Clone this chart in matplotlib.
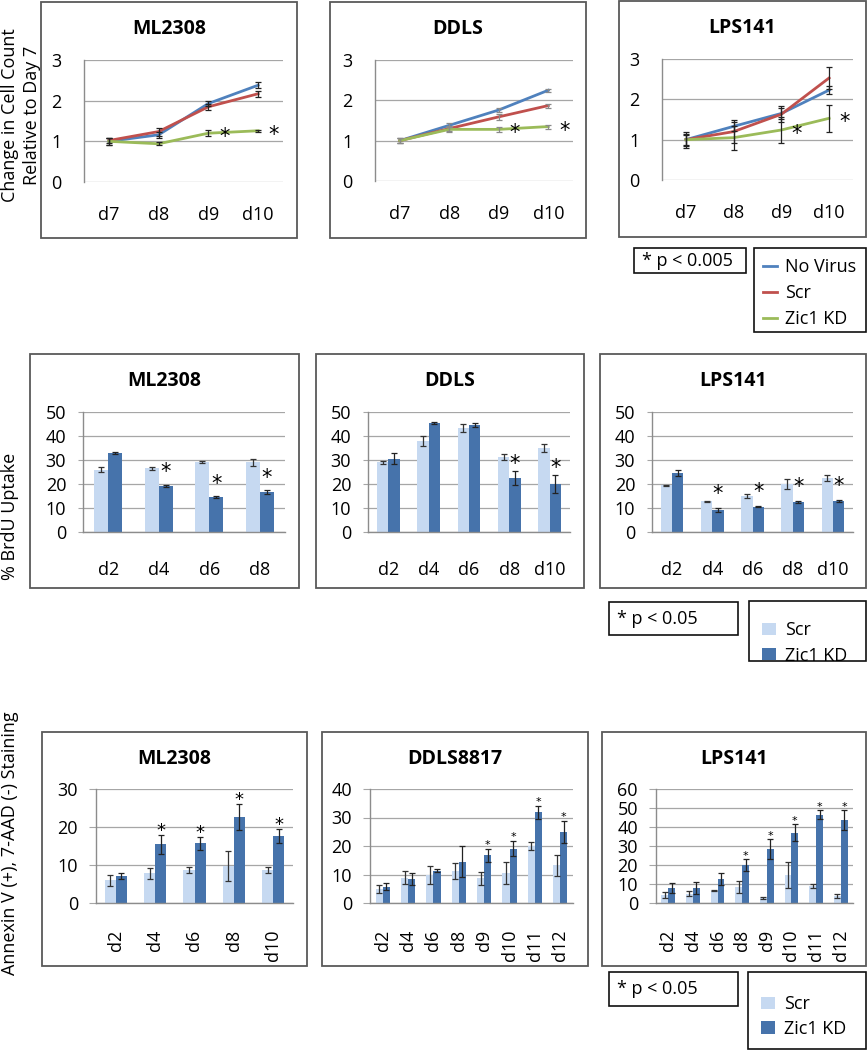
import matplotlib
matplotlib.use('Agg')
import matplotlib.pyplot as plt
import numpy as np
from matplotlib.patches import Rectangle

plt.rcParams['font.family'] = ['Open Sans', 'DejaVu Sans']

# ---- cell growth (row 1) ----
growth_days = ['d7', 'd8', 'd9', 'd10']
growth_names = ['No Virus', 'Scr', 'Zic1 KD']
growth_colors = ['#4f81bd', '#c0504d', '#9bbb59']
growth_sig = [2, 3]
ml_growth = [[1.0, 1.16, 1.93, 2.38], [1.02, 1.24, 1.85, 2.17], [1.0, 0.94, 1.2, 1.26]]
ml_growth_err = [[0.08, 0.08, 0.06, 0.07], [0.07, 0.1, 0.07, 0.07], [0.08, 0.04, 0.07, 0.03]]
ddls_growth = [[1.0, 1.38, 1.76, 2.25], [1.0, 1.3, 1.59, 1.87], [1.0, 1.28, 1.28, 1.35]]
ddls_growth_err = [[0.07, 0.05, 0.05, 0.04], [0.07, 0.06, 0.07, 0.05], [0.07, 0.07, 0.07, 0.05]]
lps_growth = [[1.0, 1.33, 1.65, 2.23], [1.0, 1.2, 1.63, 2.53], [1.0, 1.05, 1.24, 1.53]]
lps_growth_err = [[0.2, 0.12, 0.14, 0.1], [0.15, 0.28, 0.2, 0.27], [0.12, 0.3, 0.33, 0.34]]

# ---- BrdU uptake (row 2) ----
brdu_ml_days = ['d2', 'd4', 'd6', 'd8']
brdu_ml_scr = [26, 26.5, 29, 29]
brdu_ml_scr_err = [1.2, 0.5, 0.4, 1.3]
brdu_ml_kd = [33, 19.2, 14.5, 16.5]
brdu_ml_kd_err = [0.5, 0.3, 0.3, 0.8]
brdu_ml_sig = [1, 2, 3]

brdu_ddls_days = ['d2', 'd4', 'd6', 'd8', 'd10']
brdu_ddls_scr = [29, 38, 43.3, 31.4, 35]
brdu_ddls_scr_err = [0.5, 2, 1.8, 1.2, 1.5]
brdu_ddls_kd = [30.5, 45.5, 44.6, 22.4, 20]
brdu_ddls_kd_err = [2.3, 0.3, 0.7, 3, 3.8]
brdu_ddls_sig = [3, 4]

brdu_lps_days = ['d2', 'd4', 'd6', 'd8', 'd10']
brdu_lps_scr = [19.4, 12.8, 15, 20, 22.5]
brdu_lps_scr_err = [0.3, 0.3, 0.7, 2, 1.3]
brdu_lps_kd = [24.7, 9.2, 10.6, 12.6, 13]
brdu_lps_kd_err = [1.3, 0.8, 0.3, 0.5, 0.3]
brdu_lps_sig = [1, 2, 3, 4]

# ---- Annexin V staining (row 3) ----
ann_ml_days = ['d2', 'd4', 'd6', 'd8', 'd10']
ann_ml_scr = [6, 7.8, 8.7, 9.7, 8.7]
ann_ml_scr_err = [1.5, 1.5, 0.8, 4, 0.8]
ann_ml_kd = [7, 15.5, 15.7, 22.6, 17.7]
ann_ml_kd_err = [0.8, 2.5, 1.8, 3.5, 1.8]
ann_ml_sig = [1, 2, 3, 4]

ann_ddls_days = ['d2', 'd4', 'd6', 'd8', 'd9', 'd10', 'd11', 'd12']
ann_ddls_scr = [5, 8.9, 9.9, 11.2, 8.7, 10.5, 20, 13.2]
ann_ddls_scr_err = [1.4, 2.3, 3.1, 2.7, 2.3, 4, 1.5, 3.8]
ann_ddls_kd = [5.7, 8.3, 11.3, 14.5, 16.8, 19, 31.8, 25]
ann_ddls_kd_err = [1.3, 2.1, 0.5, 5.5, 2.3, 2.6, 2.4, 3.8]
ann_ddls_sig = [4, 5, 6, 7]

ann_lps_days = ['d2', 'd4', 'd6', 'd8', 'd9', 'd10', 'd11', 'd12']
ann_lps_scr = [4.2, 5, 6.5, 8.5, 2.5, 14.8, 9, 3.7]
ann_lps_scr_err = [1.8, 1.2, 0.3, 3, 0.4, 7, 1.2, 1.2]
ann_lps_kd = [7.9, 8, 12.5, 19.8, 28.5, 37, 46.5, 43.5]
ann_lps_kd_err = [2.5, 3, 3.2, 3.2, 5.3, 4.5, 2.2, 5.3]
ann_lps_sig = [3, 4, 5, 6, 7]

scr_color = '#c6d9f1'
kd_color = '#4673ab'
FS = 13

W, H = 868, 1050
fig = plt.figure(figsize=(W / 100, H / 100), dpi=100)


def fx(x):
    return x / W


def fy(y):
    return 1 - y / H


def frame(l, t, r, b, ec='#595959', lw=1.3):
    fig.add_artist(Rectangle((fx(l), fy(b)), (r - l) / W, (b - t) / H, transform=fig.transFigure,
                             fill=False, ec=ec, lw=lw))


def star(ax, x, y, size):
    # glyph centre of '*' sits ~0.6 em above the baseline
    ax.annotate('*', (x, y), xytext=(0, -0.6 * size), textcoords='offset points',
                ha='center', va='baseline', fontsize=size, family='DejaVu Sans')


def panel_axes(l, t, r, b):
    ax = fig.add_axes([fx(l), fy(b), (r - l) / W, (b - t) / H])
    ax.patch.set_visible(False)
    for s in ['top', 'right']:
        ax.spines[s].set_visible(False)
    for s in ['left', 'bottom']:
        ax.spines[s].set_color('#8c8c8c')
        ax.spines[s].set_linewidth(1.0)
    ax.grid(axis='y', color='#a6a6a6', lw=0.9)
    ax.set_axisbelow(True)
    return ax


def growth_panel(box, area, title, vals, errs, ecolor):
    frame(*box)
    fig.text(fx((box[0] + box[2]) / 2), fy(box[1] + 27), title, ha='center', va='center',
             fontsize=14, fontweight='bold')
    ax = panel_axes(*area)
    x = np.arange(len(growth_days))
    lines = []
    for v, e, c, n in zip(vals, errs, growth_colors, growth_names):
        ln, = ax.plot(x, v, color=c, lw=2.0, zorder=2, label=n)
        ax.errorbar(x, v, yerr=e, fmt='none', ecolor=ecolor, elinewidth=0.9, capsize=2.5,
                    capthick=0.9, zorder=3)
        lines.append(ln)
    ax.set_xlim(-0.5, len(growth_days) - 0.5)
    ax.set_ylim(0, 3)
    ax.set_yticks([0, 1, 2, 3])
    ax.set_xticks(x)
    ax.set_xticklabels(growth_days)
    ax.spines['bottom'].set_visible(False)
    ax.tick_params(axis='x', length=0, pad=17, labelsize=FS)
    ax.tick_params(axis='y', length=0, pad=16, labelsize=FS)
    for i in growth_sig:
        star(ax, i + 0.32, vals[2][i] + 0.06, 15)
    return lines


def bar_panel(box, area, title, days, scr, scr_err, kd, kd_err, ymax, step, sig, star_dy,
              star_size, rotate, xpad, ylen, ypad):
    frame(*box)
    fig.text(fx((box[0] + box[2]) / 2), fy(box[1] + 27), title, ha='center', va='center',
             fontsize=14, fontweight='bold')
    ax = panel_axes(*area)
    x = np.arange(len(days))
    w = 0.28
    b1 = ax.bar(x - w / 2, scr, w, color=scr_color, label='Scr', zorder=2)
    b2 = ax.bar(x + w / 2, kd, w, color=kd_color, label='Zic1 KD', zorder=2)
    ax.errorbar(x - w / 2, scr, yerr=scr_err, fmt='none', ecolor='#333333', elinewidth=0.9,
                capsize=2.2, capthick=0.9, zorder=3)
    ax.errorbar(x + w / 2, kd, yerr=kd_err, fmt='none', ecolor='#222222', elinewidth=0.9,
                capsize=2.2, capthick=0.9, zorder=3)
    ax.set_xlim(-0.5, len(days) - 0.5)
    ax.set_ylim(0, ymax)
    ax.set_yticks(np.arange(0, ymax + step / 2, step))
    ax.set_xticks(x)
    ax.set_xticklabels(days, rotation=90 if rotate else 0)
    ax.tick_params(axis='x', length=0, pad=xpad, labelsize=FS)
    ax.tick_params(axis='y', length=ylen, color='#a6a6a6', pad=ypad, labelsize=FS)
    for i in sig:
        star(ax, i + w / 2, kd[i] + kd_err[i] + star_dy, star_size)
    return b1, b2


def pbox(l, t, r, b, txt):
    frame(l, t, r, b, ec='#111111', lw=1.2)
    fig.text(fx(l + 8), fy((t + b) / 2), txt, ha='left', va='center', fontsize=FS)


# row 1
lines = growth_panel((41, 2, 297, 238), (84, 60, 283, 182), 'ML2308', ml_growth, ml_growth_err, '#222222')
growth_panel((330, 2, 586, 238), (375, 60, 573, 181), 'DDLS', ddls_growth, ddls_growth_err, '#8a8a8a')
growth_panel((619, 1, 866, 237), (662, 59, 853, 180), 'LPS141', lps_growth, lps_growth_err, '#222222')
fig.text(fx(21), fy(115), 'Change in Cell Count\nRelative to Day 7', rotation=90, ha='center',
         va='center', fontsize=FS, linespacing=1.25)
pbox(634, 248, 746, 273, '* p < 0.005')
frame(754, 248, 866, 332, ec='#111111', lw=1.2)
fig.legend(handles=lines, labels=growth_names, loc='upper left', bbox_to_anchor=(fx(763), fy(258)),
           frameon=False, fontsize=FS, handlelength=0.75, handletextpad=0.45, labelspacing=0.45,
           borderpad=0, borderaxespad=0)

# row 2
bars = bar_panel((30, 354, 299, 588), (83, 412, 285, 532), 'ML2308', brdu_ml_days, brdu_ml_scr,
                 brdu_ml_scr_err, brdu_ml_kd, brdu_ml_kd_err, 50, 10, brdu_ml_sig, 8, 15,
                 False, 21, 3.6, 8.5)
bar_panel((316, 354, 584, 588), (368, 412, 570, 532), 'DDLS', brdu_ddls_days, brdu_ddls_scr,
          brdu_ddls_scr_err, brdu_ddls_kd, brdu_ddls_kd_err, 50, 10, brdu_ddls_sig, 5.5, 15,
          False, 21, 3.6, 8.5)
bar_panel((600, 354, 866, 588), (652, 412, 853, 532), 'LPS141', brdu_lps_days, brdu_lps_scr,
          brdu_lps_scr_err, brdu_lps_kd, brdu_lps_kd_err, 50, 10, brdu_lps_sig, 8.5, 15,
          False, 21, 3.6, 8.5)
fig.text(fx(10), fy(516), '% BrdU Uptake', rotation=90, ha='center', va='center', fontsize=FS)
pbox(609, 602, 738, 635, '* p < 0.05')
frame(749, 601, 866, 661, ec='#111111', lw=1.2)
fig.legend(handles=bars, labels=['Scr', 'Zic1 KD'], loc='upper left', bbox_to_anchor=(fx(762), fy(621)),
           frameon=False, fontsize=FS, handlelength=0.8, handleheight=0.65, handletextpad=0.45,
           labelspacing=0.42, borderpad=0, borderaxespad=0)

# row 3
bar_panel((42, 732, 307, 966), (96, 789, 293, 903), 'ML2308', ann_ml_days, ann_ml_scr,
          ann_ml_scr_err, ann_ml_kd, ann_ml_kd_err, 30, 10, ann_ml_sig, 2.5, 13,
          True, 19, 5, 8)
bar_panel((322, 732, 588, 966), (370, 789, 573, 903), 'DDLS8817', ann_ddls_days, ann_ddls_scr,
          ann_ddls_scr_err, ann_ddls_kd, ann_ddls_kd_err, 40, 10, ann_ddls_sig, 2.7, 8,
          True, 19, 5, 8)
bar_panel((602, 732, 866, 966), (656, 789, 853, 903), 'LPS141', ann_lps_days, ann_lps_scr,
          ann_lps_scr_err, ann_lps_kd, ann_lps_kd_err, 60, 10, ann_lps_sig, 3.5, 8,
          True, 19, 5, 8)
fig.text(fx(10), fy(843), 'Annexin V (+), 7-AAD (-) Staining', rotation=90, ha='center',
         va='center', fontsize=FS)
pbox(609, 972, 738, 1006, '* p < 0.05')
frame(748, 972, 866, 1049, ec='#111111', lw=1.2)
fig.legend(handles=bars, labels=['Scr', 'Zic1 KD'], loc='upper left', bbox_to_anchor=(fx(761), fy(995)),
           frameon=False, fontsize=FS, handlelength=0.8, handleheight=0.65, handletextpad=0.45,
           labelspacing=0.38, borderpad=0, borderaxespad=0)

fig.savefig('out.png', dpi=100, facecolor='white')
